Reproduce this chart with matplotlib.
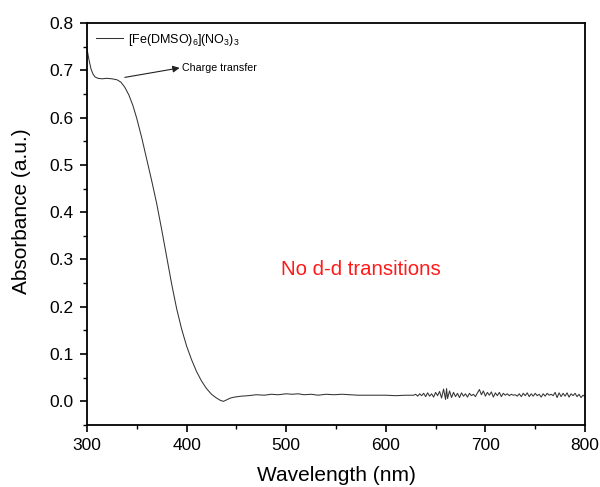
import matplotlib
matplotlib.use("Agg")
import matplotlib.pyplot as plt
from matplotlib.ticker import MultipleLocator

plt.rcParams['font.family'] = ['Liberation Sans', 'DejaVu Sans']
plt.rcParams['mathtext.fontset'] = 'custom'
plt.rcParams['mathtext.rm'] = 'Liberation Sans'
plt.rcParams['mathtext.it'] = 'Liberation Sans:italic'
plt.rcParams['mathtext.bf'] = 'Liberation Sans:bold'

wavelength = [300, 302, 304, 306, 308, 311, 315, 320, 325, 330, 334, 338, 342, 346,
              350, 355, 360, 365, 370, 375, 380, 385, 390, 395, 400, 405, 410, 415,
              420, 425, 430, 434, 437, 440, 444, 448, 455, 462, 470, 478, 485, 492,
              500, 506, 512, 518, 525, 532, 540, 548, 556, 564, 572, 580, 590, 600,
              610, 620, 628,
              630, 632, 634, 636, 638, 640, 642, 644, 646, 648, 650, 652, 654, 656,
              658, 660, 661, 662, 664, 666, 668, 670, 672, 674, 676, 678, 680, 682,
              684, 686, 688, 690, 692, 694, 696, 698, 700, 702, 704, 706, 708, 710,
              712, 714, 716, 718, 720, 722, 724, 726, 728, 730, 732, 734, 736, 738,
              740, 742, 744, 746, 748, 750, 752, 754, 756, 758, 760, 762, 764, 766,
              768, 770, 772, 774, 776, 778, 780, 782, 784, 786, 788, 790, 792, 794,
              796, 798, 800]
absorbance = [0.745, 0.722, 0.703, 0.692, 0.686, 0.683, 0.682, 0.683, 0.682, 0.680,
              0.675, 0.664, 0.648, 0.626, 0.598, 0.557, 0.512, 0.466, 0.418, 0.363,
              0.305, 0.248, 0.196, 0.153, 0.117, 0.088, 0.063, 0.043, 0.027, 0.015,
              0.007, 0.002, 0.000, 0.003, 0.007, 0.009, 0.011, 0.012, 0.014, 0.013,
              0.015, 0.014, 0.016, 0.015, 0.016, 0.014, 0.015, 0.013, 0.015, 0.014,
              0.015, 0.014, 0.013, 0.013, 0.013, 0.013, 0.012, 0.013, 0.013,
              0.015, 0.011, 0.016, 0.012, 0.017, 0.010, 0.018, 0.011, 0.016, 0.009,
              0.019, 0.012, 0.021, 0.007, 0.026, 0.004, 0.027, 0.006, 0.022, 0.008,
              0.019, 0.010, 0.017, 0.008, 0.018, 0.011, 0.016, 0.009, 0.017, 0.012,
              0.015, 0.010, 0.018, 0.025, 0.014, 0.022, 0.011, 0.019, 0.013, 0.020,
              0.009, 0.018, 0.012, 0.019, 0.010, 0.017, 0.013, 0.016, 0.012, 0.015,
              0.013, 0.014, 0.011, 0.016, 0.010, 0.017, 0.012, 0.018, 0.010, 0.016,
              0.011, 0.017, 0.012, 0.015, 0.009, 0.016, 0.011, 0.017, 0.013, 0.015,
              0.012, 0.019, 0.008, 0.018, 0.010, 0.017, 0.011, 0.018, 0.009, 0.016,
              0.012, 0.017, 0.010, 0.015, 0.008, 0.013, 0.010]

series_label = r'[Fe(DMSO)$_6$](NO$_3$)$_3$'

fig = plt.figure(figsize=(6.0, 4.87), dpi=100)
ax = fig.add_axes([0.145, 0.1273, 0.83, 0.8255])

ax.plot(wavelength, absorbance, color='#333333', lw=0.75, label=series_label)

ax.set_xlim(300, 800)
ax.set_ylim(-0.05, 0.8)
ax.xaxis.set_major_locator(MultipleLocator(100))
ax.xaxis.set_minor_locator(MultipleLocator(50))
ax.yaxis.set_major_locator(MultipleLocator(0.1))
ax.yaxis.set_minor_locator(MultipleLocator(0.05))
ax.tick_params(which='major', direction='out', length=5, width=1.2, labelsize=12.5,
               pad=4.5, top=False, right=False)
ax.tick_params(which='minor', direction='out', length=3, width=1.0, top=False, right=False)
for s in ax.spines.values():
    s.set_linewidth(1.3)

ax.set_xlabel('Wavelength (nm)', fontsize=15, labelpad=9)
ax.set_ylabel('Absorbance (a.u.)', fontsize=15)
ax.yaxis.set_label_coords(-0.112, 0.532)

leg = ax.legend(loc='upper left', bbox_to_anchor=(0.0, 1.0), frameon=False,
                fontsize=9, handlelength=2.2, handletextpad=0.4, borderaxespad=0.3)

ax.text(395, 0.705, 'Charge transfer', fontsize=7.7, va='center', ha='left')
ax.annotate('', xy=(393, 0.705), xytext=(338, 0.685),
            arrowprops=dict(arrowstyle='-|>', color='#222222', lw=0.8,
                            mutation_scale=10, shrinkA=0, shrinkB=0))

ax.text(575, 0.279, 'No d-d transitions', color='#ff1a1a', fontsize=14.7,
        ha='center', va='center')

fig.savefig('out.png', dpi=100)
